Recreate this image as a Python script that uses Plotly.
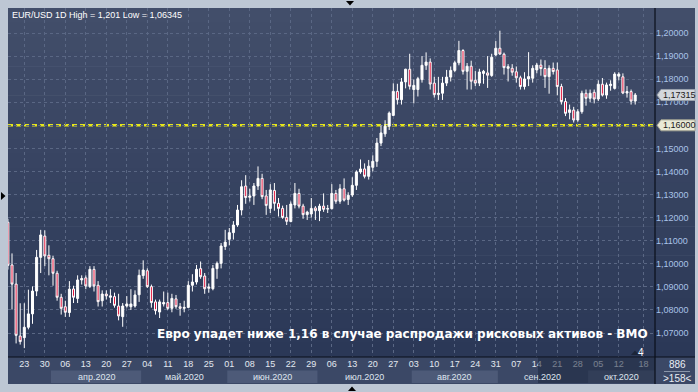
import plotly.graph_objects as go

# ---------------- data (EUR/USD daily, 17 Mar 2020 .. 16 Oct 2020) ----------------
opens = [
    1.1180, 1.0995, 1.0912, 1.0687, 1.0680, 1.0725, 1.0783, 1.0882, 1.1028, 1.1120,
    1.1037, 1.1022, 1.0959, 1.0855, 1.0814, 1.0789, 1.0891, 1.0850, 1.0930, 1.0939,
    1.0902, 1.0976, 1.0907, 1.0840, 1.0869, 1.0855, 1.0858, 1.0817, 1.0771, 1.0817,
    1.0814, 1.0817, 1.0866, 1.0949, 1.0970, 1.0901, 1.0835, 1.0791, 1.0826, 1.0832,
    1.0807, 1.0848, 1.0814, 1.0807, 1.0811, 1.0907, 1.0921, 1.0979, 1.0947, 1.0894,
    1.0892, 1.0979, 1.1002, 1.1075, 1.1106, 1.1135, 1.1168, 1.1233, 1.1337, 1.1288,
    1.1294, 1.1337, 1.1370, 1.1294, 1.1240, 1.1318, 1.1262, 1.1240, 1.1201, 1.1183,
    1.1255, 1.1305, 1.1250, 1.1213, 1.1216, 1.1242, 1.1230, 1.1250, 1.1237, 1.1239,
    1.1305, 1.1271, 1.1325, 1.1279, 1.1298, 1.1340, 1.1398, 1.1411, 1.1379, 1.1418,
    1.1444, 1.1523, 1.1563, 1.1596, 1.1643, 1.1747, 1.1711, 1.1788, 1.1843, 1.1755,
    1.1755, 1.1798, 1.1860, 1.1874, 1.1783, 1.1733, 1.1739, 1.1783, 1.1809, 1.1838,
    1.1871, 1.1924, 1.1834, 1.1856, 1.1795, 1.1783, 1.1825, 1.1827, 1.1816, 1.1905,
    1.1934, 1.1908, 1.1847, 1.1847, 1.1832, 1.1806, 1.1768, 1.1801, 1.1804, 1.1840,
    1.1861, 1.1846, 1.1811, 1.1847, 1.1840, 1.1768, 1.1703, 1.1656, 1.1666, 1.1623,
    1.1659, 1.1739, 1.1717, 1.1743, 1.1714, 1.1778, 1.1731, 1.1772, 1.1760, 1.1813,
    1.1810, 1.1740, 1.1746, 1.1705]
highs = [
    1.1195, 1.1045, 1.0960, 1.0829, 1.0829, 1.0888, 1.0902, 1.1060, 1.1147, 1.1145,
    1.1080, 1.1035, 1.0970, 1.0870, 1.0840, 1.0925, 1.0905, 1.0950, 1.0950, 1.0950,
    1.0990, 1.0990, 1.0925, 1.0885, 1.0885, 1.0890, 1.0875, 1.0870, 1.0830, 1.0860,
    1.0890, 1.0885, 1.0975, 1.1015, 1.0980, 1.0910, 1.0845, 1.0845, 1.0880, 1.0875,
    1.0870, 1.0865, 1.0830, 1.0840, 1.0925, 1.0955, 1.0995, 1.1010, 1.0960, 1.0915,
    1.0995, 1.1010, 1.1090, 1.1147, 1.1155, 1.1185, 1.1255, 1.1362, 1.1384, 1.1325,
    1.1350, 1.1422, 1.1390, 1.1320, 1.1345, 1.1350, 1.1285, 1.1252, 1.1255, 1.1270,
    1.1350, 1.1325, 1.1260, 1.1230, 1.1285, 1.1250, 1.1260, 1.1305, 1.1255, 1.1345,
    1.1320, 1.1345, 1.1370, 1.1310, 1.1375, 1.1405, 1.1452, 1.1435, 1.1450, 1.1470,
    1.1545, 1.1600, 1.1622, 1.1660, 1.1782, 1.1780, 1.1805, 1.1845, 1.1910, 1.1799,
    1.1810, 1.1900, 1.1916, 1.1890, 1.1810, 1.1810, 1.1810, 1.1840, 1.1855, 1.1880,
    1.1966, 1.1930, 1.1870, 1.1880, 1.1835, 1.1845, 1.1840, 1.1900, 1.1910, 1.1965,
    1.2010, 1.1915, 1.1865, 1.1865, 1.1855, 1.1815, 1.1830, 1.1917, 1.1860, 1.1870,
    1.1885, 1.1882, 1.1860, 1.1872, 1.1872, 1.1780, 1.1718, 1.1690, 1.1680, 1.1670,
    1.1750, 1.1755, 1.1755, 1.1755, 1.1795, 1.1805, 1.1785, 1.1795, 1.1830, 1.1830,
    1.1825, 1.1770, 1.1755, 1.1740]
lows = [
    1.0975, 1.0802, 1.0655, 1.0650, 1.06345, 1.0716, 1.0740, 1.0860, 1.0960, 1.0990,
    1.0950, 1.0905, 1.0840, 1.0780, 1.0770, 1.0770, 1.0830, 1.0830, 1.0910, 1.0890,
    1.0895, 1.0880, 1.0815, 1.0815, 1.0845, 1.0830, 1.0810, 1.0755, 1.0727, 1.0810,
    1.0800, 1.0810, 1.0835, 1.0935, 1.0895, 1.0810, 1.0780, 1.0765, 1.0815, 1.0800,
    1.0790, 1.0805, 1.0775, 1.0790, 1.0810, 1.0880, 1.0910, 1.0935, 1.0870, 1.0875,
    1.0885, 1.0935, 1.0980, 1.1060, 1.1080, 1.1105, 1.1160, 1.1210, 1.1260, 1.1270,
    1.1255, 1.1320, 1.1280, 1.1212, 1.1220, 1.1230, 1.1205, 1.1195, 1.1168, 1.1180,
    1.1240, 1.1240, 1.1195, 1.1190, 1.1200, 1.1190, 1.1185, 1.1225, 1.1220, 1.1235,
    1.1260, 1.1260, 1.1270, 1.1255, 1.1290, 1.1320, 1.1390, 1.1370, 1.1365, 1.1400,
    1.1420, 1.1510, 1.1550, 1.1580, 1.1640, 1.1690, 1.1690, 1.1760, 1.1755, 1.1695,
    1.1725, 1.1785, 1.1840, 1.1755, 1.1720, 1.1710, 1.1710, 1.1770, 1.1790, 1.1830,
    1.1860, 1.1820, 1.1755, 1.1755, 1.1770, 1.1770, 1.1780, 1.1762, 1.1810, 1.1900,
    1.1905, 1.1820, 1.1790, 1.1815, 1.1785, 1.1755, 1.1755, 1.1770, 1.1785, 1.1825,
    1.1815, 1.1762, 1.1737, 1.1820, 1.1730, 1.1690, 1.1640, 1.1626, 1.1612, 1.1615,
    1.1650, 1.1685, 1.1700, 1.1695, 1.1705, 1.1725, 1.1715, 1.1750, 1.1755, 1.1795,
    1.1735, 1.1720, 1.1690, 1.1690]
closes = [
    1.0993, 1.0912, 1.0690, 1.0663, 1.0725, 1.0783, 1.0882, 1.1028, 1.1125, 1.1034,
    1.1022, 1.0959, 1.0855, 1.0807, 1.0790, 1.0890, 1.0855, 1.0930, 1.0936, 1.0904,
    1.0976, 1.0904, 1.0836, 1.0869, 1.0861, 1.0861, 1.0820, 1.0774, 1.0817, 1.0826,
    1.0826, 1.0865, 1.0950, 1.0973, 1.0901, 1.0832, 1.0797, 1.0835, 1.0832, 1.0807,
    1.0850, 1.0814, 1.0807, 1.0811, 1.0907, 1.0921, 1.0976, 1.0944, 1.0892, 1.0899,
    1.0980, 1.1002, 1.1077, 1.1094, 1.1135, 1.1168, 1.1233, 1.1334, 1.1287, 1.1294,
    1.1337, 1.1370, 1.1291, 1.1253, 1.1320, 1.1262, 1.1240, 1.1201, 1.1184, 1.1259,
    1.1305, 1.1250, 1.1213, 1.1224, 1.1240, 1.1230, 1.1250, 1.1236, 1.1239, 1.1305,
    1.1271, 1.1325, 1.1276, 1.1297, 1.1340, 1.1398, 1.1411, 1.1379, 1.1423, 1.1444,
    1.1523, 1.1567, 1.1596, 1.1653, 1.1747, 1.1711, 1.1788, 1.1843, 1.1769, 1.1773,
    1.1802, 1.1860, 1.1874, 1.1779, 1.1733, 1.1739, 1.1783, 1.1809, 1.1838, 1.1871,
    1.1924, 1.1834, 1.1856, 1.1791, 1.1783, 1.1831, 1.1834, 1.1817, 1.1895, 1.1934,
    1.1909, 1.1850, 1.1854, 1.1830, 1.1806, 1.1768, 1.1801, 1.1811, 1.1847, 1.1861,
    1.1846, 1.1811, 1.1847, 1.1833, 1.1768, 1.1703, 1.1652, 1.1667, 1.1623, 1.1659,
    1.1739, 1.1717, 1.1739, 1.1714, 1.1778, 1.1731, 1.1775, 1.1778, 1.1822, 1.1822,
    1.1740, 1.1746, 1.1705, 1.17315]

# weekly tick labels (Mondays) and their candle index
week_labels = ["23", "30", "06", "13", "20", "27", "04", "11", "18", "25",
               "01", "08", "15", "22", "29", "06", "13", "20", "27", "03",
               "10", "17", "24", "31", "07", "14", "21", "28", "05", "12", "18"]
week_pos = [4, 9, 14, 19, 24, 29, 34, 39, 44, 49, 54, 59, 64, 69, 74, 79, 84, 89,
            94, 99, 104, 109, 114, 119, 124, 129, 134, 139, 144, 149, 155]

month_labels = ["апр.2020", "май.2020", "июн.2020", "июл.2020", "авг.2020", "сен.2020", "окт.2020"]
month_start = [11, 33, 54, 76, 99, 120, 142]

price_ticks = [1.07, 1.08, 1.09, 1.10, 1.11, 1.12, 1.13, 1.14, 1.15, 1.16, 1.17, 1.18, 1.19, 1.20]
last_price = 1.17315
level_price = 1.16

title_text = "EUR/USD 1D High = 1,201 Low = 1,06345"
headline = "Евро упадет ниже 1,16 в случае распродажи рисковых активов - BMO"

# ---------------- layout geometry ----------------
W, H = 698, 392
ML, MR, MT, MB = 8, 43, 8, 35
PW, PH = W - ML - MR, H - MT - MB
X_RANGE = [0.024, 157.83]
Y_RANGE = [1.05962, 1.21083]


def fx(px):
    return (px - ML) / PW


def fy(py):
    return (H - MB - py) / PH


def fmt(v, d=5):
    return f"{v:.{d}f}".replace(".", ",")


x = list(range(len(opens)))

fig = go.Figure()
fig.add_trace(go.Candlestick(
    x=x, open=opens, high=highs, low=lows, close=closes,
    increasing=dict(line=dict(color="#ffffff", width=1), fillcolor="#ffffff"),
    decreasing=dict(line=dict(color="#ffffff", width=1), fillcolor="#e3173e"),
    whiskerwidth=0, hoverinfo="skip", showlegend=False,
))

shapes = []
# background gradient for plot + right scale
top_c = (0x42, 0x4e, 0x6a)
bot_c = (0x2b, 0x38, 0x57)
N = 24
for k in range(N):
    t = k / (N - 1)
    c = tuple(round(top_c[j] + (bot_c[j] - top_c[j]) * t) for j in range(3))
    y0 = 8 + k * (349 / N)
    y1 = 8 + (k + 1) * (349 / N) + 0.6
    shapes.append(dict(type="rect", xref="paper", yref="paper", x0=fx(8), x1=fx(695),
                       y0=fy(min(y1, 357)), y1=fy(y0), line=dict(width=0),
                       fillcolor="rgb(%d,%d,%d)" % c, layer="below"))
# bottom time scale panel
shapes.append(dict(type="rect", xref="paper", yref="paper", x0=fx(8), x1=fx(695),
                   y0=fy(384), y1=fy(357), line=dict(width=0), fillcolor="#3b4866", layer="below"))
# alternating month bands
bounds = month_start + [X_RANGE[1] + 0.5]
for i in range(len(month_labels)):
    if i % 2 == 0:
        shapes.append(dict(type="rect", xref="x", yref="paper",
                           x0=bounds[i] - 0.5, x1=min(bounds[i + 1] - 0.5, X_RANGE[1]),
                           y0=fy(383), y1=fy(370.5), line=dict(width=0),
                           fillcolor="#4d5a78", layer="below"))
# dark overlay on right part of the time scale
shapes.append(dict(type="rect", xref="paper", yref="paper", x0=fx(538), x1=fx(655),
                   y0=fy(383), y1=fy(357.5), line=dict(width=0),
                   fillcolor="rgba(30,40,62,0.55)", layer="above"))
# frame lines
shapes.append(dict(type="line", xref="paper", yref="paper", x0=fx(8), x1=fx(695),
                   y0=fy(357), y1=fy(357), line=dict(color="#0a0f1a", width=1.2), layer="above"))
shapes.append(dict(type="line", xref="paper", yref="paper", x0=fx(655), x1=fx(655),
                   y0=fy(384), y1=fy(8), line=dict(color="#0a0f1a", width=1.2), layer="above"))
# 1.16 level
shapes.append(dict(type="line", xref="paper", yref="y", x0=0, x1=1, y0=level_price, y1=level_price,
                   line=dict(color="#e6e61a", width=2.5, dash="5px,3px"), layer="between"))
# price label boxes (pixel-sized, anchored to price)
box_path = "M 2,0 L 6,5.5 L 40,5.5 L 40,-5.5 L 6,-5.5 Z"
shapes.append(dict(type="path", xref="paper", yref="y", xsizemode="pixel", ysizemode="pixel",
                   xanchor=1, yanchor=last_price, path=box_path,
                   fillcolor="#d3d7dc", line=dict(color="#9aa2ad", width=1), layer="above"))
shapes.append(dict(type="path", xref="paper", yref="y", xsizemode="pixel", ysizemode="pixel",
                   xanchor=1, yanchor=level_price, path=box_path,
                   fillcolor="#e9e9d6", line=dict(color="#a0a090", width=1), layer="above"))
# separator in corner panel
shapes.append(dict(type="line", xref="paper", yref="paper", x0=fx(664), x1=fx(690),
                   y0=fy(371.5), y1=fy(371.5), line=dict(color="#8a96aa", width=1), layer="above"))
# little black triangles on the frame
shapes.append(dict(type="path", xref="paper", yref="paper",
                   path="M %f,%f L %f,%f L %f,%f Z" % (fx(346), fy(1), fx(354), fy(1), fx(350), fy(5.5)),
                   fillcolor="#000000", line=dict(width=0), layer="above"))
shapes.append(dict(type="path", xref="paper", yref="paper",
                   path="M %f,%f L %f,%f L %f,%f Z" % (fx(348), fy(391), fx(356), fy(391), fx(352), fy(386.5)),
                   fillcolor="#000000", line=dict(width=0), layer="above"))
shapes.append(dict(type="path", xref="paper", yref="paper",
                   path="M %f,%f L %f,%f L %f,%f Z" % (fx(1), fy(192), fx(1), fy(200), fx(5.5), fy(196)),
                   fillcolor="#000000", line=dict(width=0), layer="above"))
# small marker near "4"
shapes.append(dict(type="path", xref="paper", yref="paper",
                   path="M %f,%f L %f,%f L %f,%f Z" % (fx(631), fy(355), fx(639), fy(355), fx(635), fy(350.5)),
                   fillcolor="#1c2538", line=dict(width=0), layer="above"))

FONT = "Liberation Sans, Arial, sans-serif"
FS = 9
annotations = []
annotations.append(dict(xref="paper", yref="paper", x=fx(10), y=fy(15.5), xanchor="left", yanchor="middle",
                        text=title_text, showarrow=False, font=dict(family=FONT, size=FS, color="#ffffff")))
for i, name in enumerate(month_labels):
    a = bounds[i] - 0.5
    b = min(bounds[i + 1] - 0.5, X_RANGE[1])
    annotations.append(dict(xref="x", yref="paper", x=(a + b) / 2, y=fy(377), xanchor="center",
                            yanchor="middle", text=name, showarrow=False,
                            font=dict(family=FONT, size=FS, color="#dfe5ee")))
annotations.append(dict(xref="paper", yref="paper", x=fx(650), y=fy(334), xanchor="right", yanchor="middle",
                        text=headline, showarrow=False,
                        font=dict(family="DejaVu Sans, sans-serif", size=12, color="#ffffff",
                                  weight="bold")))
annotations.append(dict(xref="paper", yref="paper", x=fx(646), y=fy(352.5), xanchor="right", yanchor="middle",
                        text="4", showarrow=False, font=dict(family=FONT, size=10, color="#ffffff")))
annotations.append(dict(xref="paper", yref="paper", x=fx(677), y=fy(364.5), xanchor="center", yanchor="middle",
                        text="886", showarrow=False, font=dict(family=FONT, size=10, color="#e8edf4")))
annotations.append(dict(xref="paper", yref="paper", x=fx(677), y=fy(378.5), xanchor="center", yanchor="middle",
                        text=">158<", showarrow=False, font=dict(family=FONT, size=10, color="#e8edf4")))
annotations.append(dict(xref="paper", yref="y", x=fx(661), y=last_price, xanchor="left", yanchor="middle",
                        text=fmt(last_price), showarrow=False, font=dict(family=FONT, size=FS, color="#1a1a1a")))
annotations.append(dict(xref="paper", yref="y", x=fx(661), y=level_price, xanchor="left", yanchor="middle",
                        text=fmt(level_price), showarrow=False, font=dict(family=FONT, size=FS, color="#1a1a1a")))

# the 1.16 tick is shown by its own label box, so its axis text is left blank
price_ticktext = ["" if abs(v - level_price) < 1e-9 else fmt(v) for v in price_ticks]

fig.update_layout(
    width=W, height=H, margin=dict(l=ML, r=MR, t=MT, b=MB, pad=0),
    paper_bgcolor="#bdc7d4", plot_bgcolor="rgba(0,0,0,0)",
    shapes=shapes, annotations=annotations, showlegend=False,
    xaxis=dict(range=X_RANGE, tickmode="array", tickvals=week_pos, ticktext=week_labels,
               showgrid=True, gridcolor="#5a6784", gridwidth=1, griddash="3px,3px",
               zeroline=False, showline=False, ticks="", rangeslider=dict(visible=False),
               tickfont=dict(family=FONT, size=FS, color="#e3e8f0"), fixedrange=True),
    yaxis=dict(range=Y_RANGE, side="right", tickmode="array", tickvals=price_ticks,
               ticktext=price_ticktext,
               showgrid=True, gridcolor="#5a6784", gridwidth=1, griddash="3px,3px",
               zeroline=False, showline=False, ticks="",
               tickfont=dict(family=FONT, size=FS, color="#a9c3e8"), fixedrange=True),
)

fig.write_html("out.html", config={"displayModeBar": False, "staticPlot": True},
               post_script="document.body.style.margin='0';document.body.style.padding='0';")
